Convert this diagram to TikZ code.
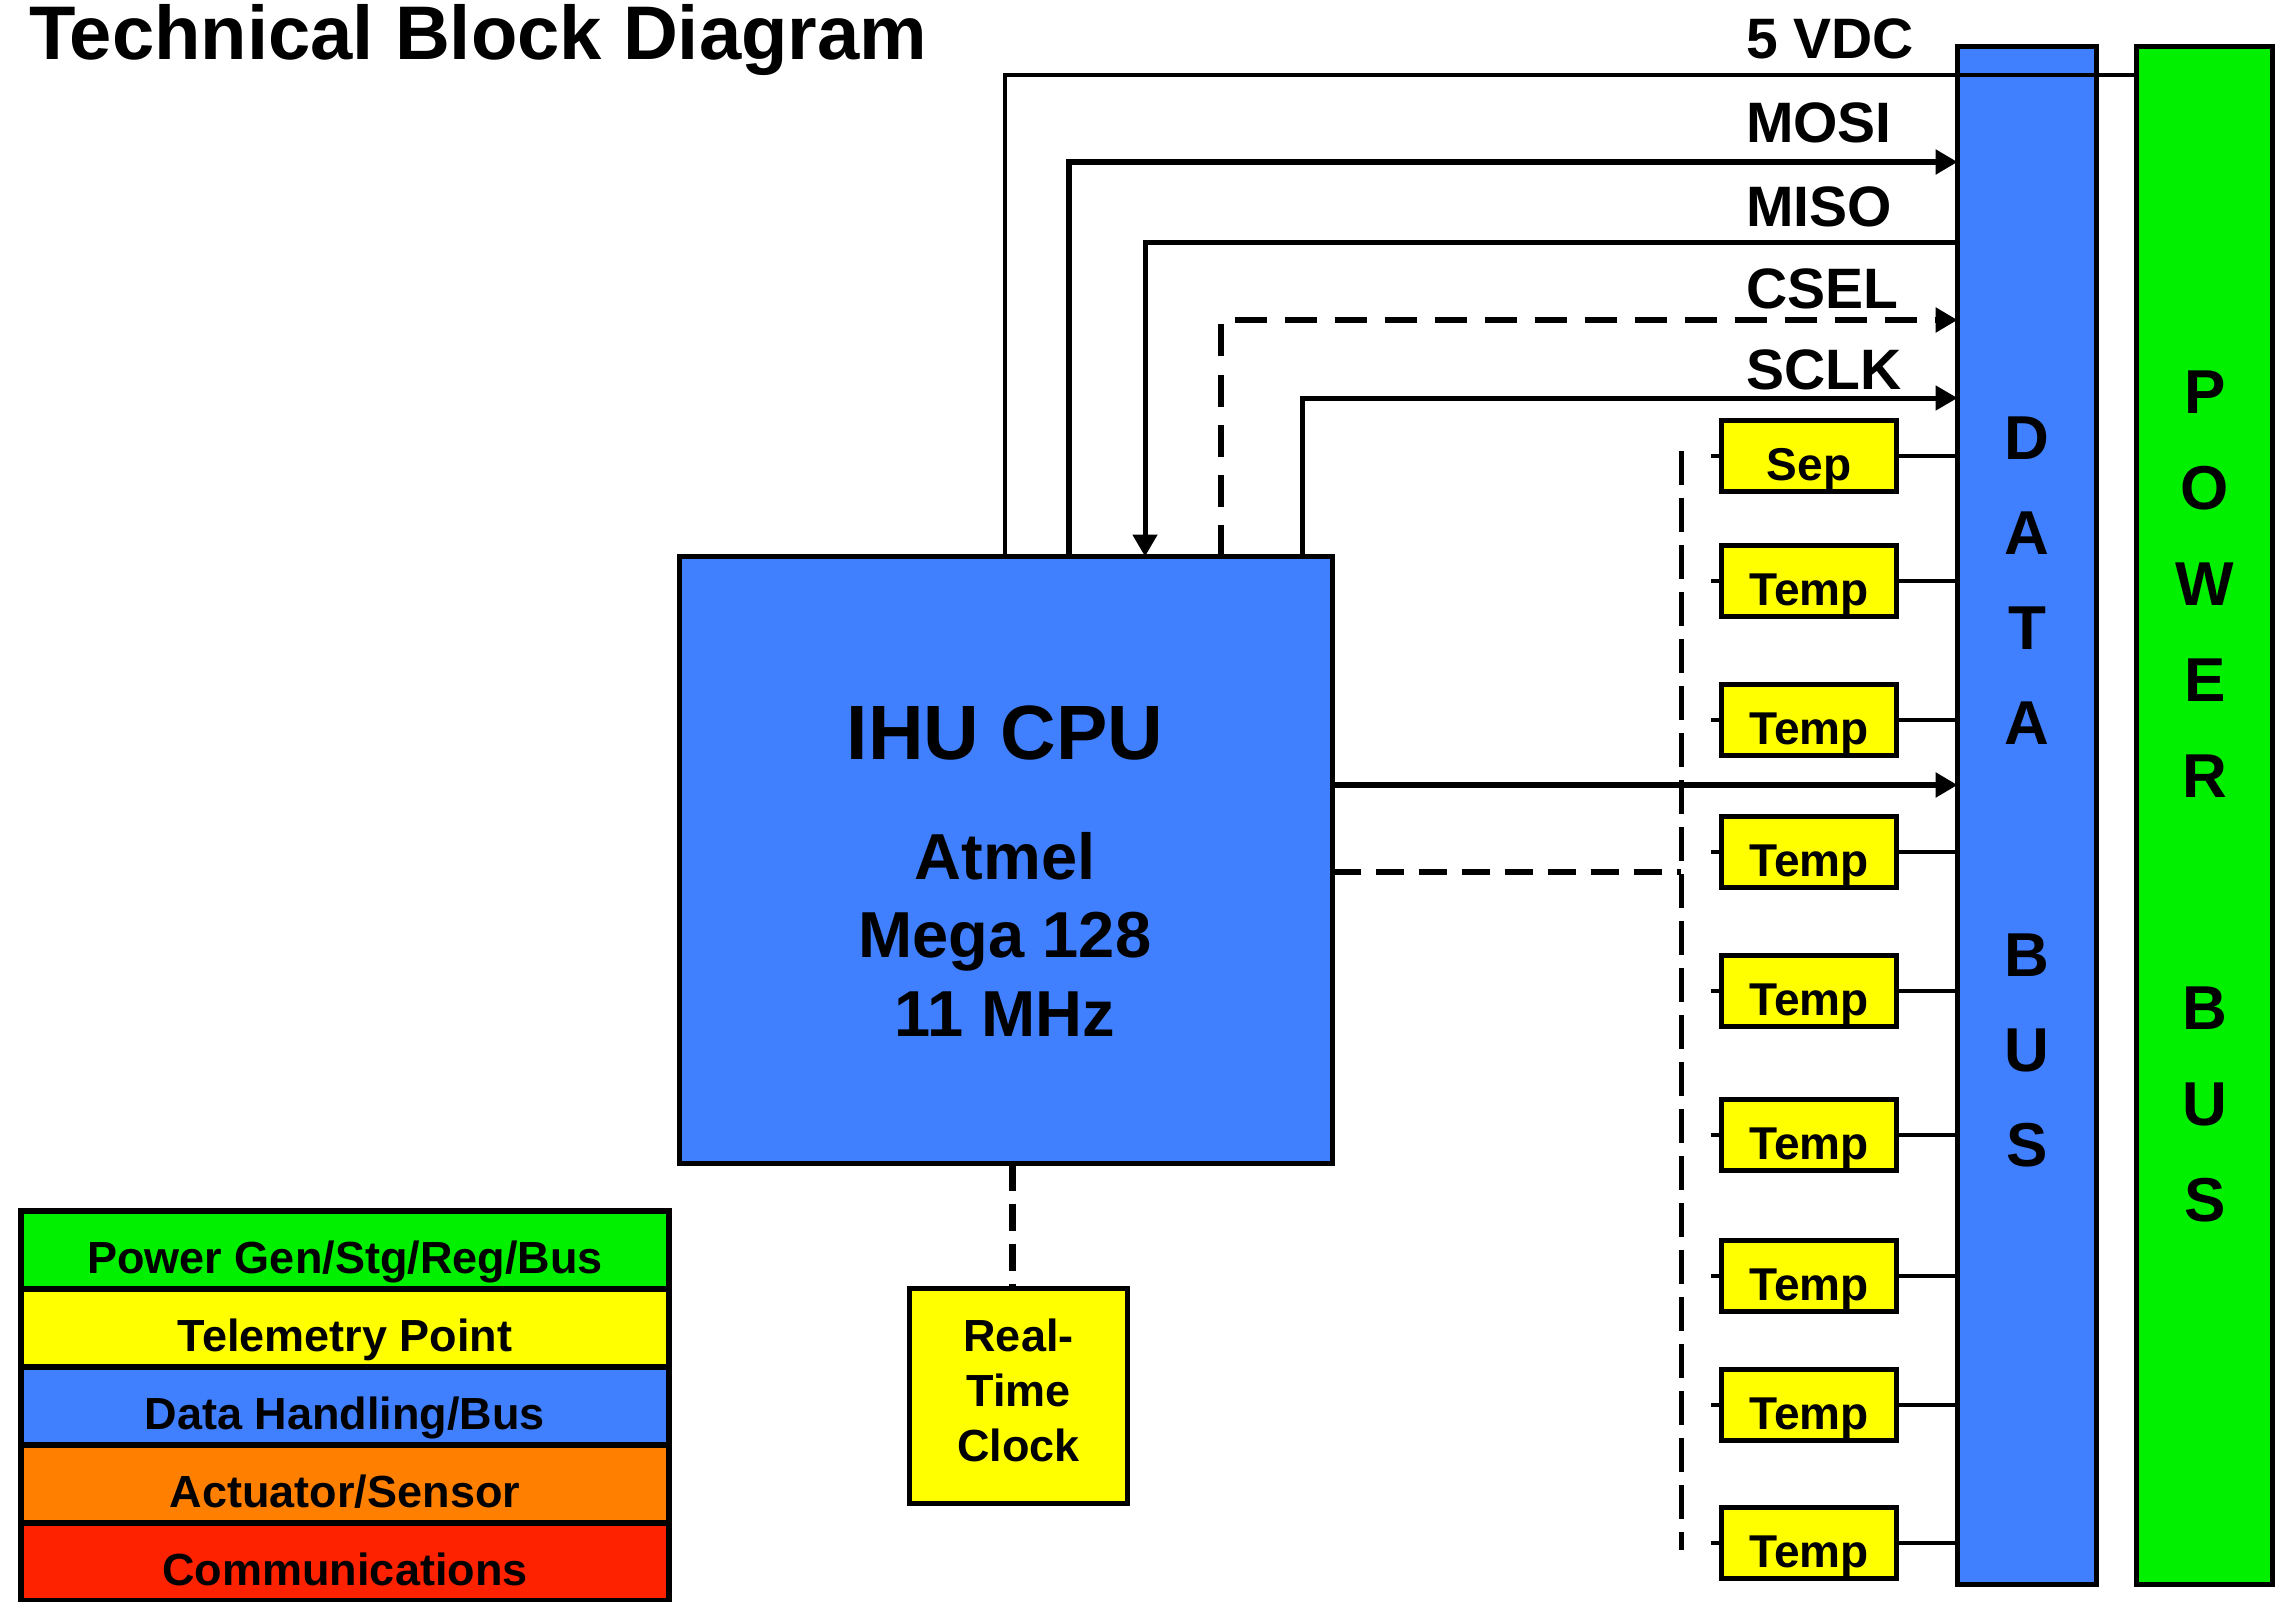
\documentclass[tikz,border=0pt]{standalone}
\usepackage{fontspec}
\setmainfont{Liberation Sans}
\usetikzlibrary{arrows.meta}
\definecolor{dhblue}{HTML}{4080FF}
\definecolor{pwgreen}{HTML}{00F000}
\definecolor{tmyellow}{HTML}{FFFF00}
\definecolor{asorange}{HTML}{FF7F00}
\definecolor{cmred}{HTML}{FF2200}
\begin{document}
\begin{tikzpicture}[x=1pt,y=-1pt,
  every node/.style={inner sep=0pt, outer sep=0pt},
  fnt/.style={font={\fontsize{#1}{#1}\selectfont\bfseries}},
  boxed/.style={draw=black, line width=5pt, rectangle},
  busbar/.style={boxed, minimum height=1538pt},
  telem/.style={boxed, fill=tmyellow, minimum width=175pt, minimum height=71pt,
    fnt=46, text height=48pt, text depth=0pt},
  legrow/.style={draw=black, line width=6pt, rectangle, minimum width=648pt,
    minimum height=78pt, fnt=45, text height=46pt, text depth=0pt},
  sig/.style={fnt=57, anchor=base west},
  bustext/.style={align=center, font={\fontsize{62}{95}\selectfont\bfseries}},
  arr/.style={-{Triangle[length=22pt,width=24pt]}},
  wire/.style={line width=#1, line join=miter},
  cseldash/.style={dash pattern=on 32pt off 18pt},
  cpudash/.style={dash pattern=on 28pt off 15pt},
  vdash/.style={dash pattern=on 34pt off 13pt},
  rtcdash/.style={dash pattern=on 27pt off 13pt}
]
\useasboundingbox (0,0) rectangle (2280,1602);

% title
\node[fnt=76, anchor=base west] (title) at (29,60) {Technical Block Diagram};

% buses
\node[busbar, fill=dhblue, minimum width=139pt] (dbus) at (2027,815.5) {};
\node[busbar, fill=pwgreen, minimum width=136pt] (pbus) at (2204.5,815.5) {};
\node[bustext] (dbustxt) at (2027,792) {D\\A\\T\\A\\[137pt]B\\U\\S};
\node[bustext, font={\fontsize{62}{96}\selectfont\bfseries}] (pbustxt) at (2205,796) {P\\O\\W\\E\\R\\[136pt]B\\U\\S};

% CPU
\node[boxed, fill=dhblue, minimum width=653pt, minimum height=607pt] (cpu) at (1006,860) {};
\node[fnt=77, anchor=base] (cpu1) at (1005,759) {IHU CPU};
\node[fnt=65, anchor=base] (cpu2) at (1005,879) {Atmel};
\node[fnt=65, anchor=base] (cpu3) at (1005,957) {Mega 128};
\node[fnt=65, anchor=base] (cpu4) at (1005,1036) {11 MHz};

% real time clock
\node[boxed, fill=tmyellow, minimum width=218pt, minimum height=215pt, align=center,
  font={\fontsize{45}{55}\selectfont\bfseries}] (rtc) at (1018.5,1396) {Real-\\Time\\Clock\\[-43pt]};

% telemetry points
\node[telem] (t0) at (1809,456) {Sep};
\node[telem] (t1) at (1809,581) {Temp};
\node[telem] (t2) at (1809,720) {Temp};
\node[telem] (t3) at (1809,852) {Temp};
\node[telem] (t4) at (1809,991) {Temp};
\node[telem] (t5) at (1809,1135) {Temp};
\node[telem] (t6) at (1809,1276) {Temp};
\node[telem] (t7) at (1809,1405) {Temp};
\node[telem] (t8) at (1809,1543) {Temp};

% signal labels
\node[sig] (l5v) at (1746,59) {5 VDC};
\node[sig] (lmosi) at (1746,143) {MOSI};
\node[sig] (lmiso) at (1746,227) {MISO};
\node[sig] (lcsel) at (1746,309) {CSEL};
\node[sig] (lsclk) at (1746,389) {SCLK};

% corner coordinates
\coordinate (k5) at (1005,75);
\coordinate (kmosi) at (1069,162);
\coordinate (kmiso) at (1145,243);
\coordinate (kcsel) at (1221,320);
\coordinate (ksclk) at (1302,398);
\coordinate (kout) at (0,785);
\coordinate (kdsh) at (0,872);
\coordinate (vtop) at (1681,451);
\coordinate (vbot) at (1681,1550);
\coordinate (krtc) at (1012,0);

% SPI and power wires
\draw[wire=4pt] (cpu.north -| k5) -- (k5) -- (k5 -| pbus.west);
\draw[wire=6pt, arr] (cpu.north -| kmosi) -- (kmosi) -- (kmosi -| dbus.west);
\draw[wire=5pt, arr] (kmiso -| dbus.west) -- (kmiso) -- (cpu.north -| kmiso);
\draw[wire=6pt, cseldash, arr] (cpu.north -| kcsel) -- (kcsel) -- (kcsel -| dbus.west);
\draw[wire=5pt, arr] (cpu.north -| ksclk) -- (ksclk) -- (ksclk -| dbus.west);

% CPU outputs
\draw[wire=6pt, arr] (cpu.east |- kout) -- (kout -| dbus.west);
\draw[wire=6pt, cpudash] (cpu.east |- kdsh) -- (kdsh -| vtop);
\draw[wire=5pt, vdash] (vtop) -- (vbot);
\draw[wire=7pt, rtcdash] (cpu.south -| krtc) -- (rtc.north -| krtc);

% telemetry taps
\foreach \t in {t0,t1,t2,t3,t4,t5,t6,t7,t8}{
  \draw[wire=4pt, dash pattern=on 11pt off 60pt] (\t.west) -- (\t.west -| vtop);
  \draw[wire=4pt] (\t.east) -- (\t.east -| dbus.west);
}

% legend
\node[legrow, fill=pwgreen] (lg1) at (345,1250) {Power Gen/Stg/Reg/Bus};
\node[legrow, fill=tmyellow] (lg2) at (345,1328) {Telemetry Point};
\node[legrow, fill=dhblue] (lg3) at (345,1406) {Data Handling/Bus};
\node[legrow, fill=asorange] (lg4) at (345,1484) {Actuator/Sensor};
\node[legrow, fill=cmred] (lg5) at (345,1562) {Communications};
\end{tikzpicture}
\end{document}
